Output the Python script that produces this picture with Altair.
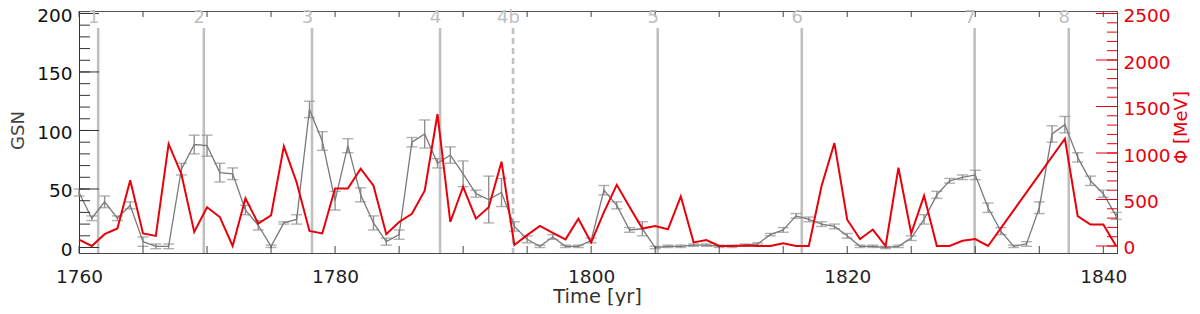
import altair as alt
import pandas as pd

# ---------------- data ----------------
GSN_YEARS = list(range(1760, 1842))
GSN = [47, 25, 39, 25, 36, 5, 1, 1, 67, 88,
       87, 64, 63, 32, 19, 1, 21, 24, 118, 91,
       40, 87, 45, 21, 5, 11, 90, 97, 72, 79,
       63, 46, 41, 47, 18, 7, 1, 9, 1, 1,
       6, 49, 36, 15, 16, 0, 1, 1, 2, 2,
       1, 1, 2, 3, 11, 15, 27, 24, 20, 18,
       10, 1, 1, 0, 1, 8, 24, 45, 57, 60,
       62, 34, 14, 1, 3, 34, 97, 105, 77, 57,
       46, 27]
GSN_ERR = [3, 2, 5, 2, 3, 4, 2, 2, 5, 8,
           9, 8, 5, 4, 4, 1, 1, 4, 7, 8,
           8, 6, 6, 6, 3, 4, 4, 12, 4, 7,
           11, 3, 20, 12, 4, 3, 1, 2, 1, 1,
           2, 4, 3, 2, 6, 1, 1, 1, 1, 1,
           1, 1, 1, 1, 1, 2, 2, 2, 2, 2,
           2, 1, 1, 1, 1, 2, 4, 3, 2, 2,
           4, 4, 3, 1, 2, 5, 7, 7, 4, 4,
           3, 3]

PHI_YEARS = [1760, 1761, 1762, 1763, 1764, 1765, 1766, 1767, 1768, 1769,
             1770, 1771, 1772, 1773, 1774, 1775, 1776, 1777, 1778, 1779,
             1780, 1781, 1782, 1783, 1784, 1785, 1786, 1787, 1788, 1789,
             1790, 1791, 1792, 1793, 1794, 1795, 1796, 1797, 1798, 1799,
             1800, 1801, 1802, 1803, 1804, 1805, 1806, 1807, 1808, 1809,
             1810, 1811, 1812, 1813, 1814, 1815, 1816, 1817, 1818, 1819,
             1820, 1821, 1822, 1823, 1824, 1825, 1826, 1827, 1828, 1829,
             1830, 1831, 1837, 1838, 1839, 1840, 1841]
PHI = [68, 0, 127, 188, 708, 135, 109, 1097, 772, 152,
       417, 311, 0, 513, 241, 329, 1072, 683, 162, 135,
       619, 619, 831, 648, 127, 258, 347, 594, 1419, 258,
       637, 294, 417, 906, 11, 117, 216, 141, 71, 294,
       39, 364, 658, 420, 188, 216, 180, 534, 39, 64,
       0, 0, 5, 0, 0, 29, 0, 0, 648, 1107,
       283, 74, 177, 0, 842, 135, 541, 0, 0, 56,
       74, 0, 1154, 322, 230, 230, 0]

CYCLE_LABELS = ["1", "2", "3", "4", "4b", "5", "6", "7", "8"]
CYCLE_YEARS = [1761.5, 1769.75, 1778.2, 1788.2, 1793.9, 1805.2, 1816.45, 1829.95, 1837.3]
CYCLE_DASHED = [False, False, False, False, True, False, False, False, False]

X_TICKS = list(range(1760, 1845, 5))
X_LABELS = [1760, 1780, 1800, 1820, 1840]
GSN_MINOR = list(range(0, 201, 10))
GSN_MAJOR = [0, 50, 100, 150, 200]
PHI_MINOR = list(range(0, 2501, 100))
PHI_MAJOR = [0, 500, 1000, 1500, 2000, 2500]

# ---------------- layout ----------------
W, H = 1038, 242
X_DOMAIN = [1760, 1841.07]
GSN_DOMAIN = [-4.7, 202.1]
PHI_DOMAIN = [-75.3, 2527]
FONT = "DejaVu Sans"
RED = "#e8000b"
GRAY = "#7a7a7a"
ERRGRAY = "#8f8f8f"
CYC = "#c0c0c0"

xs = alt.Scale(domain=X_DOMAIN, nice=False, zero=False)
gs = alt.Scale(domain=GSN_DOMAIN, nice=False, zero=False)
ps = alt.Scale(domain=PHI_DOMAIN, nice=False, zero=False)

x_axis = alt.Axis(values=X_LABELS, ticks=False, grid=False, domainColor="#444",
                  labelFontSize=18.5, labelColor="#222", labelPadding=14, format="d",
                  labelFlush=False,
                  title="Time [yr]", titleFontSize=19.5, titleFontWeight="normal",
                  titleColor="#333", titleX=518, titleY=49, titleBaseline="alphabetic")


def X(field="year"):
    return alt.X(f"{field}:Q", scale=xs, axis=x_axis)


gsn_df = pd.DataFrame({"year": GSN_YEARS, "gsn": GSN, "err": GSN_ERR})
gsn_df["lo"] = gsn_df["gsn"] - gsn_df["err"]
gsn_df["hi"] = gsn_df["gsn"] + gsn_df["err"]
phi_df = pd.DataFrame({"year": PHI_YEARS, "phi": PHI})
cyc_df = pd.DataFrame({"year": CYCLE_YEARS, "label": CYCLE_LABELS, "dashed": CYCLE_DASHED})
xt_df = pd.DataFrame({"year": X_TICKS})
gmin_df = pd.DataFrame({"v": GSN_MINOR})
gmaj_df = pd.DataFrame({"v": GSN_MAJOR})
pmin_df = pd.DataFrame({"v": PHI_MINOR})
pmaj_df = pd.DataFrame({"v": PHI_MAJOR})

# cycle marker lines
cyc_solid = alt.Chart(cyc_df[~cyc_df["dashed"]]).mark_rule(color=CYC, strokeWidth=2.6).encode(
    x=X(), y=alt.value(17), y2=alt.value(H))
cyc_dash = alt.Chart(cyc_df[cyc_df["dashed"]]).mark_rule(
    color=CYC, strokeWidth=2.6, strokeDash=[6, 4]).encode(
    x=X(), y=alt.value(17), y2=alt.value(H))
cyc_text = alt.Chart(cyc_df).mark_text(fontSize=18, color=CYC, dx=-4.5, baseline="middle",
                                       font=FONT).encode(
    x=X(), y=alt.value(7), text="label:N")

# GSN with error bars
err = alt.Chart(gsn_df).mark_rule(color=ERRGRAY, strokeWidth=1.4).encode(
    x=X(), y=alt.Y("lo:Q", scale=gs, axis=None), y2="hi:Q")
cap_lo = alt.Chart(gsn_df).mark_tick(orient="horizontal", size=11, thickness=1.4,
                                     color=ERRGRAY).encode(
    x=X(), y=alt.Y("lo:Q", scale=gs, axis=None))
cap_hi = alt.Chart(gsn_df).mark_tick(orient="horizontal", size=11, thickness=1.4,
                                     color=ERRGRAY).encode(
    x=X(), y=alt.Y("hi:Q", scale=gs, axis=None))
gsn_line = alt.Chart(gsn_df).mark_line(color=GRAY, strokeWidth=1.3).encode(
    x=X(),
    y=alt.Y("gsn:Q", scale=gs,
            axis=alt.Axis(orient="left", values=GSN_MAJOR, ticks=False, grid=False,
                          domainColor="#333", labelFontSize=18.5, labelColor="#111",
                          labelPadding=7, labelOffset=2, format="d", labelFlush=False,
                          title="GSN", titleFontSize=18, titleFontWeight="normal",
                          titleColor="#444", titleAngle=270, titleX=-61, titleY=119,
                          titleBaseline="middle")))

phi_line = alt.Chart(phi_df).mark_line(color=RED, strokeWidth=2).encode(
    x=X(),
    y=alt.Y("phi:Q", scale=ps,
            axis=alt.Axis(orient="right", values=PHI_MAJOR, ticks=False, grid=False,
                          domainColor=RED, labelFontSize=18.5, labelColor=RED,
                          labelPadding=6, labelOffset=2, format="d", labelFlush=False,
                          title="Φ [MeV]", titleFontSize=18, titleFontWeight="normal",
                          titleColor=RED, titleAngle=270, titleX=64, titleY=116,
                          titleBaseline="middle")))

# manual inward ticks
xt_bot = alt.Chart(xt_df).mark_rule(color="#444", strokeWidth=1).encode(
    x=X(), y=alt.value(H - 7), y2=alt.value(H))
xt_top = alt.Chart(xt_df).mark_rule(color="#444", strokeWidth=1).encode(
    x=X(), y=alt.value(0), y2=alt.value(6))
gt_min = alt.Chart(gmin_df).mark_rule(color="#333", strokeWidth=1).encode(
    y=alt.Y("v:Q", scale=gs, axis=None), x=alt.value(0), x2=alt.value(11))
gt_maj = alt.Chart(gmaj_df).mark_rule(color="#333", strokeWidth=1).encode(
    y=alt.Y("v:Q", scale=gs, axis=None), x=alt.value(0), x2=alt.value(20))
pt_min = alt.Chart(pmin_df).mark_rule(color=RED, strokeWidth=1).encode(
    y=alt.Y("v:Q", scale=ps, axis=None), x=alt.value(W - 10), x2=alt.value(W))
pt_maj = alt.Chart(pmaj_df).mark_rule(color=RED, strokeWidth=1).encode(
    y=alt.Y("v:Q", scale=ps, axis=None), x=alt.value(W - 21), x2=alt.value(W))

chart = alt.layer(
    cyc_solid, cyc_dash, err, cap_lo, cap_hi, gsn_line, phi_line,
    xt_bot, xt_top, gt_min, gt_maj, pt_min, pt_maj, cyc_text,
).resolve_scale(y="independent").properties(
    width=W, height=H,
    autosize=alt.AutoSizeParams(type="none"),
    padding={"left": 71, "top": 3, "right": 75, "bottom": 53},
).configure_view(stroke="#555", strokeWidth=1).configure_axis(
    labelFont=FONT, titleFont=FONT)

chart.save("out.html", embed_options={"renderer": "svg", "actions": False})
